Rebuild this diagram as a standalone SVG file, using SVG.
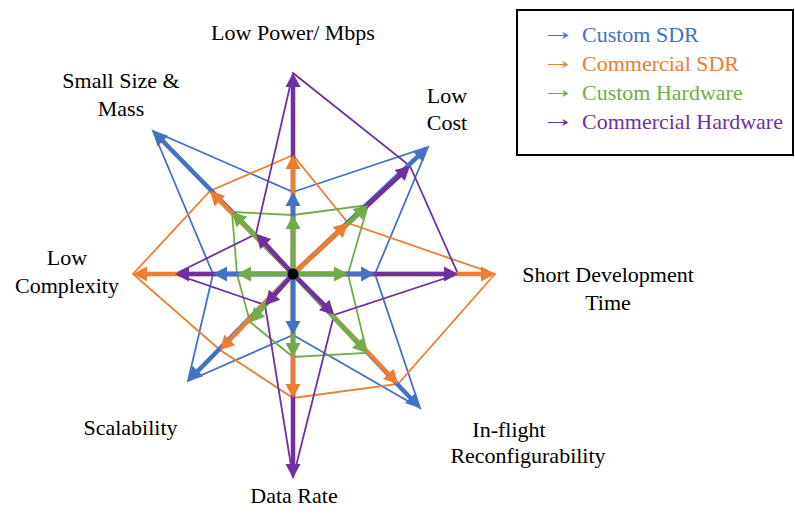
<svg xmlns="http://www.w3.org/2000/svg" width="795" height="514" viewBox="0 0 795 514">
<style>
.t{font-family:'Liberation Serif',Tinos,'Times New Roman',serif;font-size:22px;fill:#000}
.lbl{text-anchor:middle}
.poly{fill:none;stroke-width:1.8;stroke-linejoin:miter}
.sh{stroke-width:4.5;fill:none}
.b{stroke:#4472C4}.o{stroke:#ED7D31}.g{stroke:#70AD47}.p{stroke:#7030A0}
.bm{marker-end:url(#mb)}.om{marker-end:url(#mo)}.gm{marker-end:url(#mg)}.pm{marker-end:url(#mp)}
</style>
<defs>
<marker id="mb" viewBox="0 0 14 15" refX="6" refY="7.5" markerWidth="14" markerHeight="15" markerUnits="userSpaceOnUse" orient="auto" overflow="visible"><path d="M0,0 L14,7.5 L0,15 Z" fill="#4472C4"/></marker>
<marker id="mo" viewBox="0 0 14 15" refX="6" refY="7.5" markerWidth="14" markerHeight="15" markerUnits="userSpaceOnUse" orient="auto" overflow="visible"><path d="M0,0 L14,7.5 L0,15 Z" fill="#ED7D31"/></marker>
<marker id="mg" viewBox="0 0 14 15" refX="6" refY="7.5" markerWidth="14" markerHeight="15" markerUnits="userSpaceOnUse" orient="auto" overflow="visible"><path d="M0,0 L14,7.5 L0,15 Z" fill="#70AD47"/></marker>
<marker id="mp" viewBox="0 0 14 15" refX="6" refY="7.5" markerWidth="14" markerHeight="15" markerUnits="userSpaceOnUse" orient="auto" overflow="visible"><path d="M0,0 L14,7.5 L0,15 Z" fill="#7030A0"/></marker>
</defs>
<g id="labels">
<text class="t lbl" x="293" y="40">Low Power/ Mbps</text>
<text class="t lbl" x="121" y="88">Small Size &amp;</text>
<text class="t lbl" x="121" y="116">Mass</text>
<text class="t lbl" x="447" y="103">Low</text>
<text class="t lbl" x="447" y="130">Cost</text>
<text class="t lbl" x="608" y="282">Short Development</text>
<text class="t lbl" x="608" y="310">Time</text>
<text class="t lbl" x="67" y="265">Low</text>
<text class="t lbl" x="67" y="293">Complexity</text>
<text class="t lbl" x="130.5" y="435">Scalability</text>
<text class="t lbl" x="509" y="437">In-flight</text>
<text class="t lbl" x="528" y="463">Reconfigurability</text>
<text class="t lbl" x="294" y="503">Data Rate</text>
</g>
<g id="connectors">
<g id="polygons">
<polygon class="poly b" points="293,192 428,147 375,274 420,408 293,335 188,381 213,274 153,131"/>
<polygon class="poly o" points="293,155 348,223 495,274 398,384 293,398 220,350 133,274 210,191"/>
<polygon class="poly g" points="293,215 368,205 348,274 367,353 293,357 250,322 237,274 232,212"/>
<polygon class="poly p" points="293,73 410,166 458,274 334,315 293,478 265,305 175,274 256,234"/>
</g>
<g id="shafts">
<line class="sh p pm" x1="293" y1="274" x2="293" y2="81"/>
<line class="sh o om" x1="293" y1="274" x2="293" y2="163"/>
<line class="sh b bm" x1="293" y1="274" x2="293" y2="200"/>
<line class="sh g gm" x1="293" y1="274" x2="293" y2="223"/>
<line class="sh p pm" x1="293" y1="274" x2="293" y2="470"/>
<line class="sh o om" x1="293" y1="274" x2="293" y2="390"/>
<line class="sh g gm" x1="293" y1="274" x2="293" y2="349"/>
<line class="sh b bm" x1="293" y1="274" x2="293" y2="327"/>
<line class="sh o om" x1="293" y1="274" x2="141" y2="274"/>
<line class="sh p pm" x1="293" y1="274" x2="183" y2="274"/>
<line class="sh b bm" x1="293" y1="274" x2="221" y2="274"/>
<line class="sh g gm" x1="293" y1="274" x2="245" y2="274"/>
<line class="sh o om" x1="293" y1="274" x2="487" y2="274"/>
<line class="sh p pm" x1="293" y1="274" x2="450" y2="274"/>
<line class="sh b bm" x1="293" y1="274" x2="367" y2="274"/>
<line class="sh g gm" x1="293" y1="274" x2="340" y2="274"/>
<line class="sh b bm" x1="293" y1="274" x2="422.1" y2="152.5"/>
<line class="sh p pm" x1="293" y1="274" x2="404.1" y2="171.5"/>
<line class="sh g gm" x1="293" y1="274" x2="362.1" y2="210.5"/>
<line class="sh o om" x1="293" y1="274" x2="342.1" y2="228.5"/>
<line class="sh b bm" x1="293" y1="274" x2="158.6" y2="136.7"/>
<line class="sh o om" x1="293" y1="274" x2="215.6" y2="196.7"/>
<line class="sh g gm" x1="293" y1="274" x2="237.6" y2="217.7"/>
<line class="sh p pm" x1="293" y1="274" x2="261.6" y2="239.7"/>
<line class="sh b bm" x1="293" y1="274" x2="193.6" y2="375.3"/>
<line class="sh o om" x1="293" y1="274" x2="225.6" y2="344.3"/>
<line class="sh g gm" x1="293" y1="274" x2="255.6" y2="316.3"/>
<line class="sh p pm" x1="293" y1="274" x2="270.6" y2="299.3"/>
<line class="sh b bm" x1="293" y1="274" x2="414.5" y2="402.2"/>
<line class="sh o om" x1="293" y1="274" x2="392.5" y2="378.2"/>
<line class="sh g gm" x1="293" y1="274" x2="361.5" y2="347.2"/>
<line class="sh p pm" x1="293" y1="274" x2="328.5" y2="309.2"/>
</g>
</g>
<g id="center">
<circle cx="293" cy="274" r="5.5" fill="#000"/>
</g>
<g id="legend">
<rect x="517" y="10" width="276" height="145" fill="#fff" stroke="#000" stroke-width="2"/>
<text class="t" transform="translate(541,40) scale(1.55,1.15)" style="fill:#4472C4">→</text>
<text class="t" x="582" y="42" style="fill:#4472C4">Custom SDR</text>
<text class="t" transform="translate(541,69) scale(1.55,1.15)" style="fill:#ED7D31">→</text>
<text class="t" x="582" y="71" style="fill:#ED7D31">Commercial SDR</text>
<text class="t" transform="translate(541,98) scale(1.55,1.15)" style="fill:#70AD47">→</text>
<text class="t" x="582" y="100" style="fill:#70AD47">Custom Hardware</text>
<text class="t" transform="translate(541,127) scale(1.55,1.15)" style="fill:#7030A0">→</text>
<text class="t" x="582" y="129" style="fill:#7030A0">Commercial Hardware</text>
</g>
</svg>
